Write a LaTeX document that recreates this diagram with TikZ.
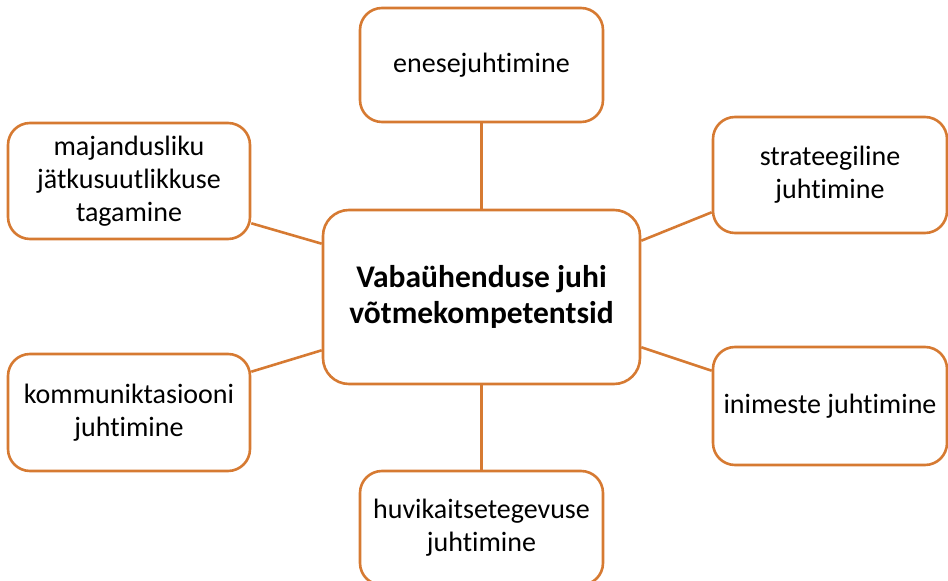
\documentclass[tikz,border=0pt]{standalone}
\usepackage{fontspec}
\setmainfont[Ligatures=NoCommon]{Carlito}
\usetikzlibrary{calc}
\definecolor{orng}{RGB}{214,122,50}
\begin{document}
\begin{tikzpicture}[x=1pt,y=1pt,
  box/.style={draw=orng,line width=2.6pt,fill=white,rounded corners=22pt,align=center,
    font=\fontsize{28}{33}\selectfont,inner sep=0pt},
  hub/.style={box,rounded corners=26pt,font=\fontsize{31.5}{36}\selectfont\bfseries},
  link/.style={draw=orng,line width=2.6pt}]
\useasboundingbox (0,0) rectangle (948,581);
\begin{scope}
\clip (0,0) rectangle (948,581);
\node[hub,minimum width=317pt,minimum height=174pt] (c) at (481.5,284) {Vabaühenduse juhi\\võtmekompetentsid};
\node[box,minimum width=243pt,minimum height=114pt] (top) at (481.5,516) {enesejuhtimine};
\node[box,minimum width=242pt,minimum height=116pt] (tl) at (129,400) {majandusliku\\jätkusuutlikkuse\\tagamine};
\node[box,minimum width=242pt,minimum height=117pt] (lb) at (129,168.5) {kommuniktasiooni\\juhtimine};
\node[box,minimum width=234pt,minimum height=116pt] (rt) at (830,406) {strateegiline\\juhtimine};
\node[box,minimum width=234pt,minimum height=118pt] (rb) at (830,175) {inimeste juhtimine};
\node[box,minimum width=243pt,minimum height=114pt] (bot) at (481.5,53) {huvikaitsetegevuse\\juhtimine};
\draw[link] (top.south) -- (c.north);
\draw[link] (c.south) -- (bot.north);
\draw[link] ($(tl.south east)+(0,17)$) -- ($(c.north west)+(0,-35)$);
\draw[link] ($(c.north east)+(0,-32)$) -- ($(rt.south west)+(0,22)$);
\draw[link] ($(lb.north east)+(0,-19)$) -- ($(c.south west)+(0,35)$);
\draw[link] ($(c.south east)+(0,38)$) -- ($(rb.north west)+(0,-25)$);
\end{scope}
\end{tikzpicture}
\end{document}
